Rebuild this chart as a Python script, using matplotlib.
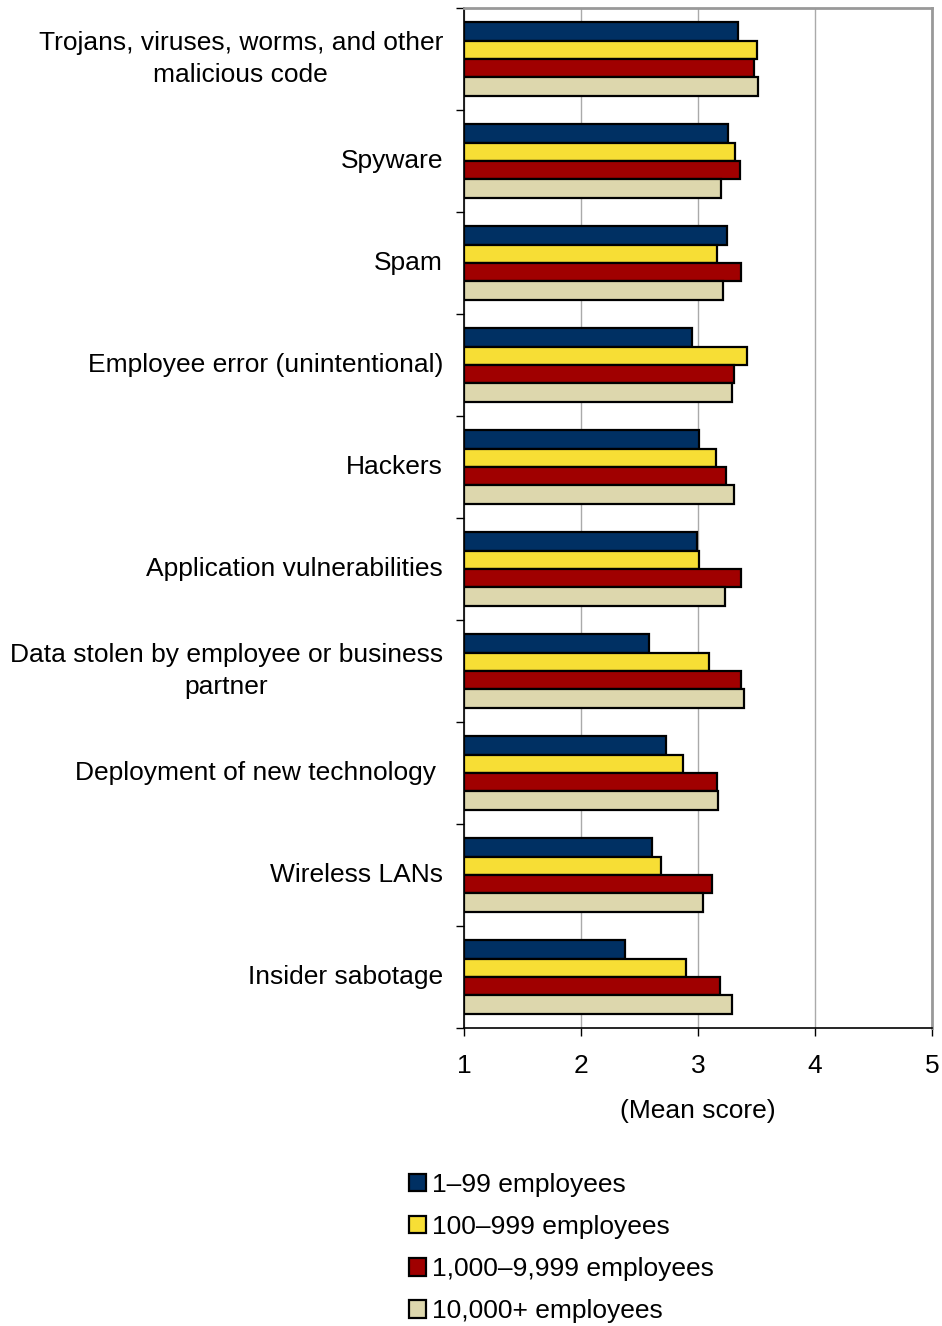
import numpy as np
import matplotlib
matplotlib.use('Agg')
from matplotlib import pyplot as plt
from matplotlib.patches import Patch

plt.rcParams['font.family'] = ['Liberation Sans', 'DejaVu Sans']

categories = [
    'Trojans, viruses, worms, and other\nmalicious code',
    'Spyware',
    'Spam',
    'Employee error (unintentional)',
    'Hackers',
    'Application vulnerabilities',
    'Data stolen by employee or business\npartner',
    'Deployment of new technology ',
    'Wireless LANs',
    'Insider sabotage',
]
series_names = ['1\u201399 employees', '100\u2013999 employees',
                '1,000\u20139,999 employees', '10,000+ employees']
small = [3.34, 3.26, 3.25, 2.95, 3.01, 2.99, 2.58, 2.73, 2.61, 2.38]
medium = [3.50, 3.32, 3.16, 3.42, 3.15, 3.01, 3.09, 2.87, 2.68, 2.90]
large = [3.48, 3.36, 3.37, 3.31, 3.24, 3.37, 3.37, 3.16, 3.12, 3.19]
huge = [3.51, 3.20, 3.21, 3.29, 3.31, 3.23, 3.39, 3.17, 3.04, 3.29]
colors = ['#003063', '#F7DE35', '#A00000', '#DDD7AD']

fs = 19

fig = plt.figure(figsize=(9.42, 13.26), dpi=100)
ax = fig.add_axes([464/942, 1-1028/1326, (932-464)/942, (1028-8)/1326])

y = np.arange(len(categories))
h = 0.18
for i, vals in enumerate([small, medium, large, huge]):
    v = np.array(vals)
    ax.barh(y - 1.5*h + i*h, v - 1, height=h, left=1, color=colors[i],
            edgecolor='black', linewidth=1.6, zorder=3)

ax.set_xlim(1, 5)
ax.set_ylim(len(categories) - 0.5, -0.5)
ax.set_xticks([1, 2, 3, 4, 5])
ax.set_xticklabels(['1', '2', '3', '4', '5'], fontsize=fs)
ax.tick_params(axis='x', length=6, width=1, pad=13)
ax.grid(axis='x', color='#aaaaaa', linewidth=1, zorder=0)

# ticks at group boundaries, labels at centres
ax.set_yticks(np.arange(len(categories) + 1) - 0.5)
ax.set_yticklabels([])
ax.tick_params(axis='y', length=6, width=1)
for yi, lab in zip(y, categories):
    ax.text(-0.045, yi, lab, transform=ax.get_yaxis_transform(),
            ha='right', va='center', fontsize=fs, multialignment='center',
            linespacing=1.44)

ax.set_xlabel('(Mean score)', fontsize=fs, labelpad=15)

for s in ['top', 'right']:
    ax.spines[s].set_color('#999999')
    ax.spines[s].set_linewidth(2)
for s in ['left', 'bottom']:
    ax.spines[s].set_color('black')
    ax.spines[s].set_linewidth(1.2)

handles = [Patch(facecolor=c, edgecolor='black', linewidth=1.6) for c in colors]
fig.legend(handles, series_names, loc='upper left',
           bbox_to_anchor=(385/942, 1-1149/1326), frameon=False,
           fontsize=fs, handlelength=0.65, handleheight=0.65,
           handletextpad=0.22, labelspacing=0.69)

fig.savefig('out.png', dpi=100)
